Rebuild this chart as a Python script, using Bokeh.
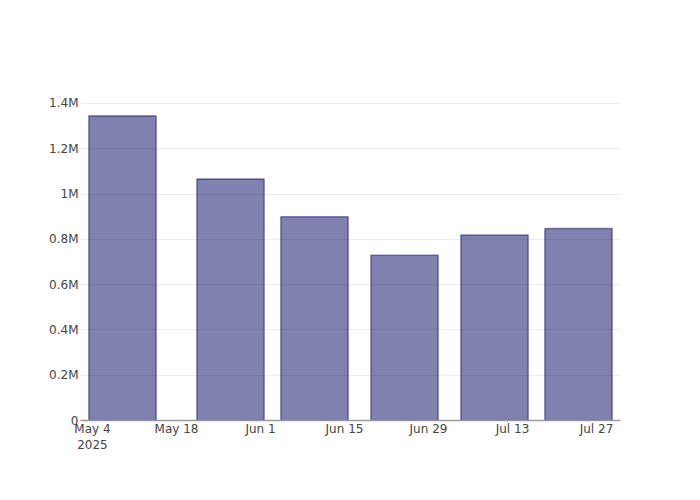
from datetime import datetime
from bokeh.plotting import figure
from bokeh.models import ColumnDataSource, FixedTicker, Range1d
from bokeh.embed import file_html
from bokeh.resources import INLINE

# Data
dates = [datetime(2025, 5, 9), datetime(2025, 5, 27), datetime(2025, 6, 10),
         datetime(2025, 6, 25), datetime(2025, 7, 10), datetime(2025, 7, 24)]
values = [1345000, 1066000, 900000, 730000, 819000, 848000]

x_tick_dates = [datetime(2025, 5, 4), datetime(2025, 5, 18), datetime(2025, 6, 1),
                datetime(2025, 6, 15), datetime(2025, 6, 29), datetime(2025, 7, 13),
                datetime(2025, 7, 27)]
x_tick_labels = ["May 4\n2025", "May 18", "Jun 1", "Jun 15", "Jun 29", "Jul 13", "Jul 27"]
y_ticks = [0, 200000, 400000, 600000, 800000, 1000000, 1200000, 1400000]
y_tick_labels = ["0", "0.2M", "0.4M", "0.6M", "0.8M", "1M", "1.2M", "1.4M"]

DAY = 86400000.0
def ms(d):
    return (d - datetime(1970, 1, 1)).total_seconds() * 1000.0

source = ColumnDataSource(dict(x=[ms(d) for d in dates], top=values))

p = figure(width=684, height=484, output_backend="svg", toolbar_location=None,
           x_axis_type="datetime",
           x_range=Range1d(ms(datetime(2025, 5, 2)), ms(datetime(2025, 7, 31))),
           y_range=Range1d(0, 1413000),
           min_border_left=80, min_border_right=64, min_border_top=100, min_border_bottom=64)

p.vbar(x="x", top="top", width=11.2 * DAY, source=source,
       fill_color="#191970", fill_alpha=0.55,
       line_color="#191970", line_alpha=0.5, line_width=1.6)

p.outline_line_color = None
p.background_fill_color = "white"
p.border_fill_color = "white"
p.xgrid.grid_line_color = None
p.ygrid.grid_line_color = "#ececec"
p.ygrid.grid_line_width = 1

xt = [ms(d) for d in x_tick_dates]
p.xaxis.ticker = FixedTicker(ticks=xt)
p.xaxis.major_label_overrides = {t: l for t, l in zip(xt, x_tick_labels)}
p.xaxis.axis_line_color = "#9a9a9a"
p.xaxis.axis_line_width = 1.5
p.xaxis.major_tick_line_color = None
p.xaxis.minor_tick_line_color = None
p.xaxis.major_label_standoff = -5

p.yaxis.ticker = FixedTicker(ticks=y_ticks)
p.yaxis.major_label_overrides = {t: l for t, l in zip(y_ticks, y_tick_labels)}
p.yaxis.axis_line_color = None
p.yaxis.major_tick_line_color = None
p.yaxis.minor_tick_line_color = None
p.yaxis.major_label_standoff = -4

for ax in (p.xaxis, p.yaxis):
    ax.major_label_text_font = "DejaVu Sans"
    ax.major_label_text_font_size = "12px"
    ax.major_label_text_color = "#444444"

open("out.html", "w").write(file_html(p, INLINE))
